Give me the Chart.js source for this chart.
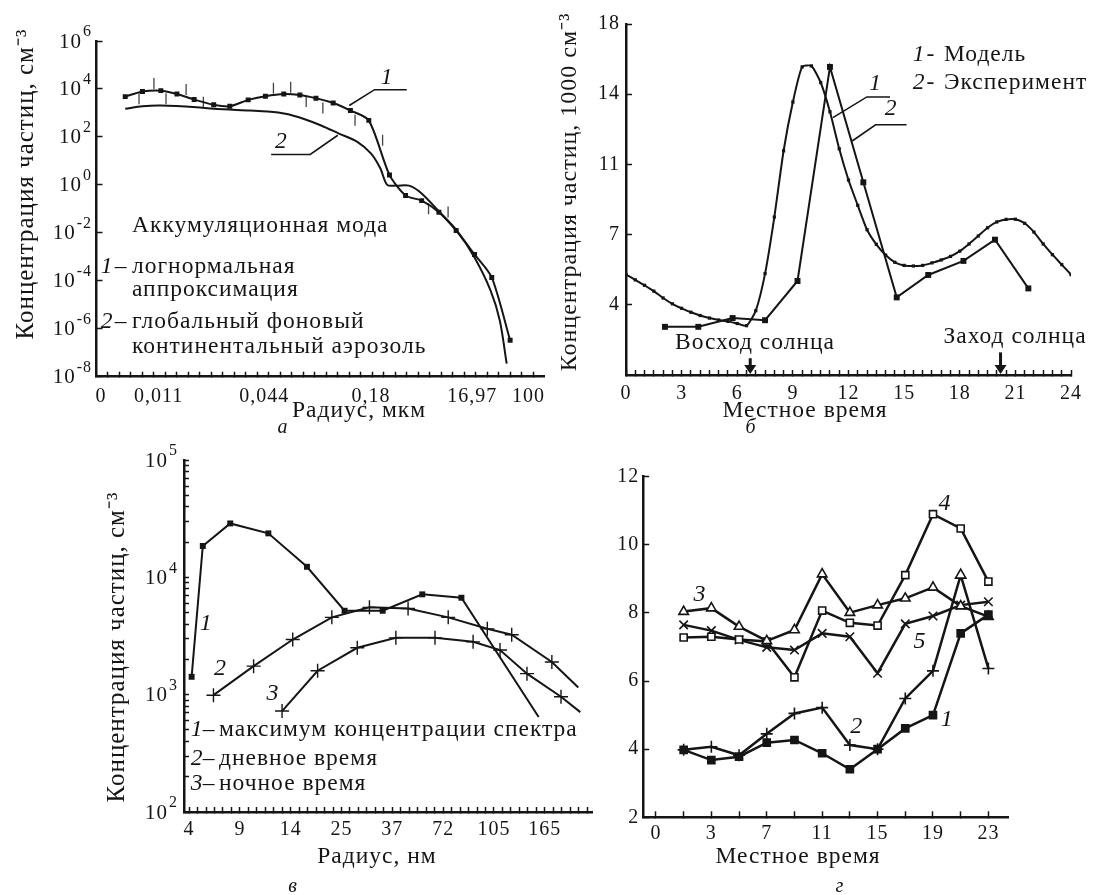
<!DOCTYPE html>
<html>
<head>
<meta charset="utf-8">
<script src="https://cdn.jsdelivr.net/npm/chart.js@4.4.0/dist/chart.umd.min.js"></script>
<style>
  html, body { margin: 0; padding: 0; background: #fff; }
  #wrap { position: relative; width: 1094px; height: 895px; }
  #wrap canvas { position: absolute; left: 0; top: 0; }
</style>
</head>
<body>
<div id="wrap">
  <canvas id="panelA" width="1094" height="895"></canvas>
  <canvas id="panelB" width="1094" height="895"></canvas>
  <canvas id="panelC" width="1094" height="895"></canvas>
  <canvas id="panelD" width="1094" height="895"></canvas>
</div>
<script>
// ---- panel а: аккумуляционная мода (x in tick units of the printed axis) ----
const aTickPos = [0.4, 5.4, 14.6, 23.9, 32.7, 37.6];
const aTickText = ['0', '0,011', '0,044', '0,18', '16,97', '100'];
const aYTicks = [1e-8, 1e-6, 1e-4, 1e-2, 1, 1e2, 1e4, 1e6];
const aFitX = [2.5, 4.0, 5.6, 7.0, 8.5, 10.2, 11.6, 13.2, 14.7, 16.3, 17.7, 19.1, 20.6, 22.1, 23.7, 25.5, 26.9, 28.3, 29.8, 31.3, 32.9, 34.4, 36.0];
const aFitY = [4800, 7800, 8500, 6200, 3600, 2200, 1900, 3500, 5000, 6200, 5600, 4100, 2600, 1260, 490, 2.6, 0.36, 0.22, 0.072, 0.0125, 0.00126, 0.000138, 3.3e-7];
const aBgX = [2.5, 4.0, 5.6, 8.7, 10.2, 13.35, 14.9, 16.45, 18.0, 19.55, 21.1, 22.7, 23.9, 24.7, 25.3, 26.1, 27.2, 28.25, 29.8, 31.4, 32.9, 34.3, 35.1, 35.7];
const aBgY = [1480, 1900, 2040, 1740, 1480, 1260, 1150, 930, 575, 300, 138, 62, 20, 4.9, 1.0, 0.93, 0.93, 0.46, 0.079, 0.0117, 0.00093, 3.9e-5, 2.2e-6, 3.5e-8];
const aMeasX = [3.7, 5.0, 6.05, 7.8, 9.3, 15.4, 16.9, 18.25, 19.7, 22.5, 24.9, 28.9, 30.6];
const aMeasY = [3900, 17000, 3900, 9400, 2800, 10700, 11700, 3000, 1600, 490, 72, 0.10, 0.074];

// ---- panel б: суточный ход ----
const bModelX = [0, 0.5, 1, 1.5, 2, 2.5, 3, 3.5, 4, 4.5, 5, 5.5, 6, 6.5, 7, 7.5, 8, 8.5, 9, 9.5, 10, 10.5, 11, 11.5, 12,
  12.5, 13, 13.5, 14, 14.5, 15, 15.5, 16, 16.5, 17, 17.5, 18, 18.5, 19, 19.5, 20, 20.5, 21, 21.5, 22, 22.5, 23, 23.5, 24];
const bModelY = [5.15, 4.88, 4.6, 4.3, 3.95, 3.65, 3.42, 3.22, 3.05, 2.92, 2.82, 2.75, 2.64, 2.53, 3.3, 5.2, 8.1, 11.5, 14.0, 15.8, 15.85, 15.0, 13.5, 11.6, 10.0,
  8.7, 7.45, 6.7, 6.15, 5.78, 5.62, 5.59, 5.62, 5.75, 5.9, 6.08, 6.35, 6.72, 7.13, 7.55, 7.85, 7.98, 7.99, 7.78, 7.33, 6.72, 6.17, 5.66, 5.15];
const bExpX = [2.1, 3.9, 5.75, 7.5, 9.25, 11.0, 12.8, 14.6, 16.3, 18.2, 19.9, 21.7];
const bExpY = [2.47, 2.47, 2.92, 2.81, 4.82, 15.8, 9.88, 3.98, 5.13, 5.85, 6.94, 4.44];
const bYTicks = [3.6, 7.2, 10.8, 14.4, 18];
const sunHours = [6.7, 20.2];

// ---- panel в: спектры по радиусу ----
const cTickText = ['4', '9', '14', '25', '37', '72', '105', '165'];
const cMaxX = [0.05, 0.27, 0.81, 1.56, 2.32, 3.06, 3.81, 4.59, 5.36, 6.88];
const cMaxY = [1420, 18500, 28800, 23700, 12300, 5190, 5190, 7160, 6700, 646];
const cDayX = [0.48, 1.27, 2.04, 2.81, 3.55, 4.31, 5.1, 5.87, 6.35, 7.14, 7.66];
const cDayY = [990, 1750, 2950, 4560, 5550, 5430, 4560, 3640, 3240, 1900, 1150];
const cNightX = [1.83, 2.53, 3.31, 4.07, 4.84, 5.59, 6.12, 6.65, 7.32, 7.7];
const cNightY = [725, 1600, 2510, 3050, 3050, 2820, 2400, 1510, 960, 710];

// ---- panel г: пять рядов по местному времени ----
const dTickPos = [-1, 3, 7, 11, 15, 19, 23];
const dTickText = ['0', '3', '7', '11', '15', '19', '23'];
const dHours = [1, 3, 5, 7, 9, 11, 13, 15, 17, 19, 21, 23];
const d1 = [3.98, 3.68, 3.78, 4.19, 4.27, 3.88, 3.41, 4.0, 4.61, 5.0, 7.4, 7.95];
const d2 = [3.98, 4.07, 3.82, 4.45, 5.05, 5.22, 4.12, 4.0, 5.49, 6.3, 9.11, 6.37];
const d3 = [8.04, 8.14, 7.6, 7.18, 7.5, 9.14, 8.01, 8.23, 8.43, 8.75, 8.2, 7.89];
const d4 = [7.28, 7.3, 7.22, 7.16, 6.11, 8.07, 7.71, 7.63, 9.11, 10.9, 10.48, 8.92];
const d5 = [7.65, 7.48, 7.21, 6.99, 6.91, 7.4, 7.3, 6.23, 7.68, 7.91, 8.23, 8.33];

const INK = '#151515';
const SERIF = '"Liberation Serif"';
const W = 1094, H = 895;
Chart.defaults.font.family = 'Liberation Serif';
Chart.defaults.color = INK;
Chart.defaults.animation = false;
Chart.defaults.events = [];
Chart.defaults.plugins.legend.display = false;
Chart.defaults.plugins.tooltip.enabled = false;

// printed text in the scan is loosely tracked
Chart.register({
  id: 'tracking',
  beforeUpdate(chart) { chart.ctx.letterSpacing = '1px'; },
  beforeDraw(chart) { chart.ctx.letterSpacing = '1px'; }
});

const pts = (xs, ys) => xs.map((x, i) => ({ x, y: ys[i] }));
function range(a, b, step) {
  const out = [];
  for (let i = 0; a + i * step <= b + 1e-9; i++) out.push(+(a + i * step).toFixed(6));
  return out;
}

// place the plot area exactly; axes get a fixed box size
const YW = 60, XH = 40;
function frame(left, top, right, bottom) {
  return { autoPadding: false, padding: { left: left - YW, top: top, right: W - right, bottom: H - bottom - XH } };
}

function axis(o) {
  return {
    type: o.type || 'linear',
    min: o.min,
    max: o.max,
    afterFit: s => { if (s.isHorizontal()) s.height = XH; else s.width = YW; },
    afterBuildTicks: s => { s.ticks = o.ticks.map(v => ({ value: v })); },
    ticks: { display: !o.hideLabels, autoSkip: false, maxRotation: 0, padding: o.pad, color: INK, font: { size: 20 }, callback: o.label },
    grid: { drawOnChartArea: false, tickLength: o.tl || -6, tickWidth: 1.5, tickColor: o.tickColor || INK },
    border: { color: INK, width: 2.5 }
  };
}

// leader lines, arrows, power-of-ten labels and free text
function notes(spec) {
  return {
    id: 'notes',
    afterDatasetsDraw(chart) {
      const ctx = chart.ctx;
      const sx = chart.scales.x, sy = chart.scales.y;
      const px = p => [sx.getPixelForValue(p[0]), sy.getPixelForValue(p[1])];
      ctx.save();
      ctx.strokeStyle = INK;
      ctx.fillStyle = INK;
      (spec.leaders || []).forEach(path => {
        ctx.lineWidth = 1.6;
        ctx.beginPath();
        path.forEach((p, i) => { const [x, y] = px(p); if (i) ctx.lineTo(x, y); else ctx.moveTo(x, y); });
        ctx.stroke();
      });
      (spec.arrows || []).forEach(a => {
        const [x0, y0] = px(a[0]);
        const [x1, y1] = px(a[1]);
        ctx.lineWidth = 3;
        ctx.beginPath(); ctx.moveTo(x0, y0); ctx.lineTo(x1, y1 - 7); ctx.stroke();
        ctx.beginPath(); ctx.moveTo(x1 - 6, y1 - 9); ctx.lineTo(x1 + 6, y1 - 9); ctx.lineTo(x1, y1); ctx.closePath(); ctx.fill();
      });
      if (spec.powers) {
        // 10 with a raised exponent, as printed
        const p = spec.powers;
        ctx.textBaseline = 'middle';
        sy.ticks.forEach(t => {
          const e = Math.log10(t.value);
          if (Math.abs(e - Math.round(e)) > 1e-6) return;
          const y = sy.getPixelForValue(t.value);
          const exp = String(Math.round(e));
          ctx.font = '16px ' + SERIF;
          const ew = ctx.measureText(exp).width;
          ctx.textAlign = 'left';
          ctx.fillText(exp, p.right - ew, y - 9);
          ctx.font = '21px ' + SERIF;
          ctx.textAlign = 'right';
          ctx.fillText('10', p.right - ew - 1, y + 1);
        });
      }
      (spec.texts || []).forEach(t => {
        const [x, y] = t.at ? px(t.at) : [t.x, t.y];
        ctx.font = (t.italic ? 'italic ' : '') + (t.size || 23.5) + 'px ' + SERIF;
        ctx.textAlign = t.align || 'center';
        ctx.textBaseline = 'middle';
        ctx.save();
        ctx.translate(x, y);
        if (t.rot) ctx.rotate(-Math.PI / 2);
        ctx.fillText(t.text, 0, 0);
        ctx.restore();
      });
      ctx.restore();
    }
  };
}

// ---------- а ----------
new Chart(document.getElementById('panelA'), {
  type: 'line',
  data: {
    datasets: [
      { data: pts(aBgX, aBgY), borderColor: INK, borderWidth: 2, pointRadius: 0, tension: 0.3 },
      { data: pts(aFitX, aFitY), borderColor: INK, borderWidth: 2, tension: 0.25,
        pointStyle: 'rect', pointRadius: 3.5, backgroundColor: INK, pointBorderWidth: 0 },
      { data: pts(aMeasX, aMeasY), showLine: false, pointStyle: 'line', rotation: 90,
        pointRadius: 5.5, borderColor: '#444', pointBorderWidth: 1.3 }
    ]
  },
  options: {
    responsive: false,
    layout: frame(96.5, 41, 544.6, 376.7),
    scales: {
      x: axis({ min: 0, max: 39, ticks: range(1, 38, 1).concat(aTickPos), pad: 13, tl: -5,
        label: v => { const i = aTickPos.indexOf(v); return i >= 0 ? aTickText[i] : ''; },
        tickColor: c => aTickPos.includes(c.tick.value) ? 'rgba(0,0,0,0)' : INK }),
      y: axis({ type: 'logarithmic', min: 1e-8, max: 1e6, ticks: aYTicks, hideLabels: true })
    }
  },
  plugins: [notes({
    powers: { right: 92 },
    leaders: [
      [[22.0, 2040], [24.2, 9330], [27.0, 9330]],
      [[15.2, 18.6], [18.6, 18.6], [21.0, 117]]
    ],
    texts: [
      { text: 'Концентрация частиц, см⁻³', x: 26, y: 184, rot: true, size: 25 },
      { text: 'Радиус, мкм', x: 359, y: 411 },
      { text: 'а', x: 283, y: 428, italic: true, size: 20 },
      { text: 'Аккумуляционная мода', x: 132, y: 226, align: 'left' },
      { text: '1', x: 107, y: 267, italic: true },
      { text: '–', x: 121, y: 267 },
      { text: 'логнормальная', x: 132, y: 267, align: 'left' },
      { text: 'аппроксимация', x: 132, y: 290, align: 'left' },
      { text: '2', x: 107, y: 322, italic: true },
      { text: '–', x: 121, y: 322 },
      { text: 'глобальный фоновый', x: 132, y: 322, align: 'left' },
      { text: 'континентальный аэрозоль', x: 132, y: 347, align: 'left' },
      { text: '1', at: [25.3, 30200], italic: true },
      { text: '2', at: [16.1, 61.7], italic: true }
    ]
  })]
});

// ---------- б ----------
new Chart(document.getElementById('panelB'), {
  type: 'line',
  data: {
    datasets: [
      { data: pts(bModelX, bModelY), borderColor: INK, borderWidth: 2, tension: 0.2,
        pointStyle: 'rect', pointRadius: 2.3, backgroundColor: INK, pointBorderWidth: 0 },
      { data: pts(bExpX, bExpY), borderColor: INK, borderWidth: 2, tension: 0,
        pointStyle: 'rect', pointRadius: 4.2, backgroundColor: INK, pointBorderWidth: 0 }
    ]
  },
  options: {
    responsive: false,
    layout: frame(626, 17.3, 1086, 375),
    scales: {
      x: axis({ min: 0, max: 24, ticks: range(0, 24, 0.5), pad: 12, tl: -5,
        label: v => v % 3 === 0 ? String(v) : '' }),
      y: axis({ min: 0, max: 18, ticks: bYTicks, pad: 12, label: v => String(Math.round(v)) })
    }
  },
  plugins: [notes({
    leaders: [
      [[11.16, 13.2], [12.99, 14.26], [14.24, 14.26]],
      [[12.2, 12.0], [13.46, 12.83], [15.13, 12.83]]
    ],
    arrows: [
      [[sunHours[0], 0.86], [sunHours[0], 0.05]],
      [[sunHours[1], 1.16], [sunHours[1], 0.05]]
    ],
    texts: [
      { text: 'Концентрация частиц, 1000 см⁻³', x: 570, y: 192, rot: true, size: 24 },
      { text: 'Местное время', x: 805, y: 411 },
      { text: 'б', x: 751, y: 428, italic: true, size: 20 },
      { text: '1', x: 919, y: 55, italic: true },
      { text: '-', x: 931, y: 55 },
      { text: 'Модель', x: 944, y: 55, align: 'left' },
      { text: '2', x: 919, y: 83, italic: true },
      { text: '-', x: 931, y: 83 },
      { text: 'Эксперимент', x: 944, y: 83, align: 'left' },
      { text: 'Восход солнца', x: 755, y: 343 },
      { text: 'Заход солнца', x: 1015, y: 337 },
      { text: '1', at: [13.46, 14.93], italic: true },
      { text: '2', at: [14.3, 13.64], italic: true }
    ]
  })]
});

// ---------- в ----------
new Chart(document.getElementById('panelC'), {
  type: 'line',
  data: {
    datasets: [
      { data: pts(cMaxX, cMaxY), borderColor: INK, borderWidth: 2, tension: 0,
        pointStyle: 'rect', pointRadius: cMaxX.map((x, i) => i === cMaxX.length - 1 ? 0 : 4.2),
        backgroundColor: INK, pointBorderWidth: 0 },
      { data: pts(cDayX, cDayY), borderColor: INK, borderWidth: 2, tension: 0,
        pointStyle: 'cross', pointRadius: cDayX.map((x, i) => i === cDayX.length - 1 ? 0 : 7), pointBorderWidth: 1.4 },
      { data: pts(cNightX, cNightY), borderColor: INK, borderWidth: 2, tension: 0,
        pointStyle: 'cross', pointRadius: cNightX.map((x, i) => i === cNightX.length - 1 ? 0 : 7), pointBorderWidth: 1.4 }
    ]
  },
  options: {
    responsive: false,
    layout: frame(184, 460, 592, 812),
    scales: {
      x: axis({ min: -0.1, max: 7.93, ticks: range(0, 7.9, 1 / 6), pad: 11, tl: -5,
        label: v => Math.abs(v - Math.round(v)) < 1e-6 ? (cTickText[Math.round(v)] || '') : '' }),
      y: axis({ type: 'logarithmic', min: 100, max: 1e5, tl: -5, hideLabels: true,
        ticks: [1, 2, 3, 4, 5, 6, 7, 8, 9].flatMap(m => [m * 100, m * 1000, m * 10000]).concat([1e5]).sort((a, b) => a - b) })
    }
  },
  plugins: [notes({
    powers: { right: 178 },
    texts: [
      { text: 'Концентрация частиц, см⁻³', x: 117, y: 647, rot: true, size: 25 },
      { text: 'Радиус, нм', x: 377, y: 857 },
      { text: 'в', x: 293, y: 887, italic: true, size: 20 },
      { text: '1', x: 197, y: 730, italic: true },
      { text: '–', x: 209, y: 730 },
      { text: 'максимум концентрации спектра', x: 219, y: 730, align: 'left' },
      { text: '2', x: 197, y: 759, italic: true },
      { text: '–', x: 209, y: 759 },
      { text: 'дневное время', x: 219, y: 759, align: 'left' },
      { text: '3', x: 197, y: 784, italic: true },
      { text: '–', x: 209, y: 784 },
      { text: 'ночное время', x: 219, y: 784, align: 'left' },
      { text: '1', at: [0.34, 4060], italic: true, size: 24 },
      { text: '2', at: [0.62, 1675], italic: true, size: 24 },
      { text: '3', at: [1.65, 1026], italic: true, size: 24 }
    ]
  })]
});

// ---------- г ----------
const dLine = { borderColor: INK, borderWidth: 2.5, tension: 0, pointBorderWidth: 1.6 };
new Chart(document.getElementById('panelD'), {
  type: 'line',
  data: {
    datasets: [
      Object.assign({ data: pts(dHours, d1), pointStyle: 'rect', pointRadius: 5, backgroundColor: INK }, dLine),
      Object.assign({ data: pts(dHours, d2), pointStyle: dHours.map((h, i) => i === 10 ? 'triangle' : 'cross'),
        pointRadius: 6, backgroundColor: '#fff' }, dLine),
      Object.assign({ data: pts(dHours, d3), pointStyle: 'triangle', pointRadius: 5.5, backgroundColor: '#fff' }, dLine),
      Object.assign({ data: pts(dHours, d4), pointStyle: 'rect', pointRadius: 5, backgroundColor: '#fff' }, dLine),
      Object.assign({ data: pts(dHours, d5), pointStyle: 'crossRot', pointRadius: 6, backgroundColor: '#fff' }, dLine)
    ]
  },
  options: {
    responsive: false,
    layout: frame(643.2, 476.7, 1008.2, 817.3),
    scales: {
      x: axis({ min: -1.92, max: 24.43, ticks: range(-1, 23, 2), pad: 10,
        label: v => { const i = dTickPos.indexOf(v); return i >= 0 ? dTickText[i] : ''; } }),
      y: axis({ min: 2, max: 12, ticks: [2, 4, 6, 8, 10, 12], pad: 10, label: v => String(v) })
    }
  },
  plugins: [notes({
    texts: [
      { text: 'Местное время', x: 798, y: 857 },
      { text: 'г', x: 840, y: 887, italic: true, size: 20 },
      { text: '1', at: [20.03, 4.88], italic: true, size: 24 },
      { text: '2', at: [13.49, 4.66], italic: true, size: 24 },
      { text: '3', at: [2.18, 8.53], italic: true, size: 24 },
      { text: '4', at: [19.87, 11.22], italic: true, size: 24 },
      { text: '5', at: [18.06, 7.16], italic: true, size: 24 }
    ]
  })]
});
</script>
</body>
</html>
